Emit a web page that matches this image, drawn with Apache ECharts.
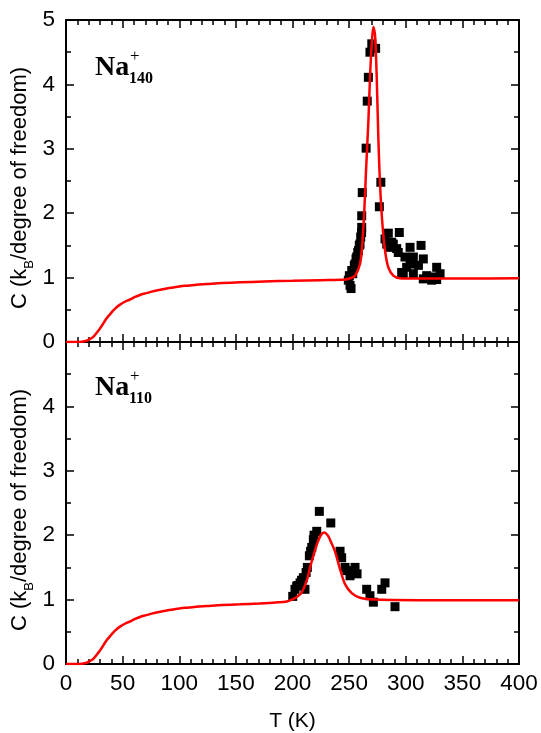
<!DOCTYPE html>
<html>
<head>
<meta charset="utf-8">
<script src="https://cdn.jsdelivr.net/npm/echarts@6.0.0/dist/echarts.min.js"></script>
<style>
html,body{margin:0;padding:0;background:#fff;}
#chart{width:541px;height:733px;}
</style>
</head>
<body>
<div id="chart"></div>
<script>
// ---- data ----
const xTicks = [0, 50, 100, 150, 200, 250, 300, 350, 400];
const yTicks = [0, 1, 2, 3, 4, 5];
const xTitle = 'T (K)';
const yTitleParts = ['C (k', 'B', '/degree of freedom)'];

const na140Points = [
  [249.3,0.96],[250.8,0.88],[251.7,0.83],[250.2,1.03],[252.3,1.11],[253.2,1.06],[254.6,1.19],
  [255.2,1.21],[256.1,1.29],[256.7,1.32],[257.6,1.39],[258.3,1.42],[259.0,1.50],[259.6,1.52],
  [260.2,1.63],[261.0,1.70],[261.1,1.78],[261.1,1.96],[261.6,2.32],[265.0,3.01],[266.0,3.74],
  [267.0,4.11],[268.4,4.50],[270.0,4.63],[273.4,4.56],[276.7,2.10],[278.0,2.48],
  [281.7,1.60],[283.2,1.52],[284.6,1.69],[286.1,1.47],[287.6,1.55],[289.0,1.52],[292.0,1.45],
  [293.4,1.39],[294.3,1.70],[296.4,1.08],[297.8,1.06],[299.3,1.32],[300.8,1.16],[303.8,1.47],
  [303.8,1.21],[306.7,1.32],[306.7,1.06],[311.2,1.19],[313.5,1.50],[315.5,1.29],[315.5,0.98],
  [318.5,1.03],[322.9,0.96],[325.8,1.01],[327.3,1.16],[327.3,0.97],[330.3,1.06]
];

const na140Fit = [
  [0,0],[8,0],[14,0.005],[18.3,0.02],[21,0.045],[24.1,0.08],[27,0.14],[30,0.21],[33,0.29],
  [35.9,0.37],[38.8,0.43],[41.8,0.49],[44.7,0.54],[47.7,0.58],[52,0.625],[56.5,0.66],
  [61,0.70],[65.3,0.73],[70,0.755],[74.2,0.775],[81,0.805],[88.9,0.83],[97,0.855],[106.6,0.875],
  [115,0.89],[124.2,0.90],[138,0.915],[153.6,0.926],[175,0.94],[200,0.95],[225,0.96],
  [246.4,0.97],[251,0.99],[255.2,1.03],[259.6,1.21],[261.6,1.52],[263.4,2.04],
  [264.9,2.65],[267,3.43],[268.4,4.09],[269.9,4.61],[271.4,4.89],[272.9,4.76],[274.4,4.09],
  [275.8,3.17],[277.3,2.45],[279.4,1.83],[281.7,1.42],[284.6,1.16],[289,1.03],[294.9,0.99],
  [309.7,0.985],[350,0.985],[400,0.99]
];

const na110Points = [
  [200.2,1.05],[202.2,1.16],[203.7,1.21],[205.0,1.22],[206.7,1.26],[208.0,1.30],[209.6,1.34],
  [211.0,1.16],[212.0,1.42],[213.1,1.50],[214.9,1.68],[216.0,1.75],[217.0,1.81],[218.4,1.93],
  [219.0,2.00],[221.4,2.06],[223.7,2.37],[233.8,2.19],[242.0,1.75],[243.4,1.65],[246.4,1.50],
  [248.0,1.45],[250.8,1.37],[253.7,1.42],[255.2,1.50],[257.0,1.40],[265.5,1.16],[268.4,1.06],
  [271.4,0.96],[278.8,1.16],[281.7,1.26],[290.5,0.89]
];

const na110Fit = [
  [0,0],[8,0],[14,0.005],[18.3,0.02],[21,0.045],[24.1,0.08],[27,0.14],[30,0.21],[33,0.29],
  [35.9,0.37],[38.8,0.43],[41.8,0.49],[44.7,0.54],[47.7,0.58],[52,0.625],[56.5,0.66],
  [61,0.70],[65.3,0.73],[70,0.755],[74.2,0.775],[81,0.805],[88.9,0.83],[97,0.855],[106.6,0.875],
  [115,0.89],[124.2,0.90],[138,0.915],[153.6,0.926],[170,0.94],[185,0.955],[195,0.97],
  [200.8,1.01],[204.5,1.05],[208.1,1.11],[212.5,1.29],[215.5,1.50],[218.4,1.68],
  [222,1.88],[225,2.0],[228.1,2.04],[231,2.0],[233.1,1.93],[237.5,1.75],[242,1.47],
  [246.4,1.24],[252.3,1.10],[259.6,1.03],[274.4,1.00],[320,0.99],[400,0.99]
];

const panelLabels = [
  { main: 'Na', sup: '+', sub: '140' },
  { main: 'Na', sup: '+', sub: '110' }
];

// ---- chart ----
const chart = echarts.init(document.getElementById('chart'), null, { renderer: 'canvas' });
const FONT = '"Liberation Sans", Arial, sans-serif';
const SERIF = '"Liberation Serif", "Times New Roman", serif';
const lineStyle = { color: '#000', width: 2 };
const tickStyle = { color: '#000', width: 1.5 };

function xAxis(grid, pos, showLabels) {
  return {
    type: 'value', gridIndex: grid, position: pos, min: xTicks[0], max: xTicks[xTicks.length - 1],
    interval: xTicks[1] - xTicks[0],
    axisLine: { show: true, onZero: false, lineStyle },
    axisTick: { show: true, inside: true, length: 8, lineStyle: tickStyle },
    minorTick: { show: true, splitNumber: 5, length: 5, lineStyle: tickStyle },
    axisLabel: { show: showLabels, color: '#000', fontSize: 22.5, fontFamily: FONT, margin: 8 },
    splitLine: { show: false },
    name: showLabels ? xTitle : '',
    nameLocation: 'middle', nameGap: 47,
    nameTextStyle: { color: '#000', fontSize: 21, fontFamily: FONT }
  };
}
function yAxis(grid, pos, showLabels, hideMax) {
  return {
    type: 'value', gridIndex: grid, position: pos, min: yTicks[0], max: yTicks[yTicks.length - 1],
    interval: yTicks[1] - yTicks[0],
    axisLine: { show: true, onZero: false, lineStyle },
    axisTick: { show: true, inside: true, length: 8, lineStyle: tickStyle },
    minorTick: { show: true, splitNumber: 2, length: 5, lineStyle: tickStyle },
    axisLabel: { show: showLabels, color: '#000', fontSize: 22.5, fontFamily: FONT, margin: 11,
      showMaxLabel: !hideMax },
    splitLine: { show: false }
  };
}

function yTitle(cy) {
  return {
    type: 'text', x: 20, y: cy, rotation: Math.PI / 2,
    style: {
      text: '{n|' + yTitleParts[0] + '}{s|' + yTitleParts[1] + '}{n|' + yTitleParts[2] + '}',
      align: 'center', verticalAlign: 'middle',
      rich: {
        n: { fontSize: 22, fontFamily: FONT, fill: '#000', lineHeight: 32, verticalAlign: 'middle' },
        s: { fontSize: 13, fontFamily: FONT, fill: '#000', lineHeight: 32, verticalAlign: 'bottom' }
      }
    }
  };
}

function labelGraphics(lbl, top) {
  return [
    { type: 'text', left: 95, top: top, style: { text: lbl.main, font: 'bold 28px ' + SERIF, fill: '#000' } },
    { type: 'text', left: 130, top: top - 6, style: { text: lbl.sup, font: '17px ' + SERIF, fill: '#000' } },
    { type: 'text', left: 129, top: top + 17, style: { text: lbl.sub, font: 'bold 16px ' + SERIF, fill: '#000' } }
  ];
}

const option = {
  animation: false,
  backgroundColor: '#fff',
  grid: [
    { left: 66, right: 22, top: 20, height: 322 },
    { left: 66, right: 22, top: 342, height: 323 }
  ],
  xAxis: [xAxis(0, 'bottom', false), xAxis(0, 'top', false), xAxis(1, 'bottom', true), xAxis(1, 'top', false)],
  yAxis: [yAxis(0, 'left', true, false), yAxis(0, 'right', false, false), yAxis(1, 'left', true, true), yAxis(1, 'right', false, false)],
  graphic: [].concat(
    labelGraphics(panelLabels[0], 54), labelGraphics(panelLabels[1], 374),
    [yTitle(188), yTitle(510)]
  ),
  series: [
    { type: 'scatter', xAxisIndex: 0, yAxisIndex: 0, data: na140Points, symbol: 'rect', symbolSize: 9,
      itemStyle: { color: '#000', opacity: 1 }, z: 3 },
    { type: 'line', xAxisIndex: 0, yAxisIndex: 0, data: na140Fit, showSymbol: false, smooth: 0.3,
      lineStyle: { color: '#ff0000', width: 2.5 }, z: 4 },
    { type: 'scatter', xAxisIndex: 2, yAxisIndex: 2, data: na110Points, symbol: 'rect', symbolSize: 9,
      itemStyle: { color: '#000', opacity: 1 }, z: 3 },
    { type: 'line', xAxisIndex: 2, yAxisIndex: 2, data: na110Fit, showSymbol: false, smooth: 0.3,
      lineStyle: { color: '#ff0000', width: 2.5 }, z: 4 }
  ]
};
chart.setOption(option);
</script>
</body>
</html>
